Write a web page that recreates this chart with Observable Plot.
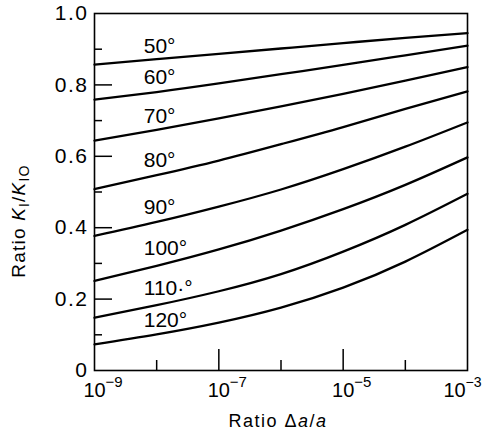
<!DOCTYPE html>
<html><head><meta charset="utf-8">
<script src="https://cdn.jsdelivr.net/npm/d3@7"></script>
<script src="https://cdn.jsdelivr.net/npm/@observablehq/plot@0.6"></script>
<style>body{margin:0;background:#fff}</style>
</head><body><div id="chart"></div>
<script>
// Data
const ratios = [1e-9, 1e-8, 1e-7, 1e-6, 1e-5, 1e-4, 1e-3];
const angles = [50, 60, 70, 80, 90, 100, 110, 120];
const k50  = [0.857, 0.872, 0.887, 0.902, 0.917, 0.932, 0.945];
const k60  = [0.759, 0.780, 0.804, 0.830, 0.856, 0.883, 0.910];
const k70  = [0.644, 0.674, 0.706, 0.740, 0.775, 0.812, 0.850];
const k80  = [0.508, 0.547, 0.588, 0.634, 0.682, 0.733, 0.782];
const k90  = [0.377, 0.416, 0.459, 0.507, 0.564, 0.627, 0.695];
const k100 = [0.251, 0.293, 0.339, 0.392, 0.452, 0.520, 0.597];
const k110 = [0.148, 0.183, 0.222, 0.270, 0.333, 0.408, 0.495];
const k120 = [0.073, 0.101, 0.134, 0.176, 0.232, 0.305, 0.394];
const seriesValues = [k50, k60, k70, k80, k90, k100, k110, k120];

const labelTexts = ["50°", "60°", "70°", "80°", "90°", "100°", "110·°", "120°"];
const labelY = [0.909, 0.820, 0.711, 0.588, 0.457, 0.341, 0.229, 0.142];
const labelX = 6.2e-9;

const yMajor = [0, 0.2, 0.4, 0.6, 0.8, 1.0];
const yMinor = [0.1, 0.3, 0.5, 0.7, 0.9];
const xMajor = [1e-9, 1e-7, 1e-5, 1e-3];
const xMinor = [1e-8, 1e-6, 1e-4];
const xExp = ["−9", "−7", "−5", "−3"];

const table = [];
angles.forEach((a, j) => ratios.forEach((r, i) => table.push({angle: a, x: r, y: seriesValues[j][i]})));

const W = 483, H = 446, mL = 94, mR = 16, mT = 13, mB = 76;
const fw = W - mL - mR, fh = H - mT - mB;
const font = "'Liberation Sans', Arial, sans-serif";

const chart = Plot.plot({
  width: W, height: H,
  marginLeft: mL, marginRight: mR, marginTop: mT, marginBottom: mB,
  style: {fontFamily: font, background: "white", color: "black"},
  x: {type: "log", domain: [1e-9, 1e-3], axis: null},
  y: {domain: [0, 1], axis: null},
  marks: [
    Plot.axisY({ticks: yMajor, tickSize: 0, tickPadding: 6, fontSize: 21,
      tickFormat: d => d === 0 ? "0" : d.toFixed(1), label: null}),
    Plot.tickY(yMajor.slice(1, -1), {y: d => d, insetRight: fw - 18, strokeWidth: 1.5}),
    Plot.tickY(yMinor, {y: d => d, insetRight: fw - 8, strokeWidth: 1.5}),
    Plot.tickX(xMajor.slice(1, -1), {x: d => d, insetTop: fh - 21, strokeWidth: 1.5}),
    Plot.tickX(xMinor, {x: d => d, insetTop: fh - 10, strokeWidth: 1.5}),
    Plot.text(xMajor.slice(0, 3), {x: d => d, text: () => "10", frameAnchor: "bottom", dy: 26, fontSize: 20}),
    Plot.text(xMajor.slice(0, 3), {x: d => d, text: (d, i) => xExp[i], frameAnchor: "bottom",
      textAnchor: "start", dx: 11, dy: 16, fontSize: 15}),
    Plot.text(xMajor.slice(3), {x: d => d, text: () => "10", frameAnchor: "bottom", dx: -13, dy: 26, fontSize: 20}),
    Plot.text(xMajor.slice(3), {x: d => d, text: () => xExp[3], frameAnchor: "bottom",
      textAnchor: "start", dx: -2, dy: 16, fontSize: 14}),
    Plot.line(table, {x: "x", y: "y", z: "angle", curve: "natural", stroke: "black", strokeWidth: 2.3}),
    Plot.text(labelTexts, {x: () => labelX, y: (d, i) => labelY[i], text: d => d,
      textAnchor: "start", fontSize: 21}),
    Plot.frame({stroke: "black", strokeWidth: 1.6})
  ]
});

const svg = d3.select(chart);
svg.selectAll('g[aria-label="y-axis tick label"] text').attr("letter-spacing", 1.5);

// y-axis label with italic K and subscripts
const yl = svg.append("text")
  .attr("transform", "translate(25,221) rotate(-90)")
  .attr("text-anchor", "middle")
  .attr("letter-spacing", 1.2)
  .attr("font-family", font).attr("font-size", 19).attr("fill", "black");
yl.append("tspan").text("Ratio ");
yl.append("tspan").attr("font-style", "italic").text("K");
yl.append("tspan").attr("font-size", 14).attr("dy", 4).text("I");
yl.append("tspan").attr("dy", -4).text("/");
yl.append("tspan").attr("font-style", "italic").text("K");
yl.append("tspan").attr("font-size", 14).attr("dy", 4).text("IO");

// x-axis label
const xl = svg.append("text")
  .attr("x", 278).attr("y", 427)
  .attr("text-anchor", "middle")
  .attr("letter-spacing", 1.5)
  .attr("font-family", font).attr("font-size", 18).attr("fill", "black");
xl.append("tspan").text("Ratio Δ");
xl.append("tspan").attr("font-style", "italic").text("a");
xl.append("tspan").text("/");
xl.append("tspan").attr("font-style", "italic").text("a");

document.getElementById("chart").appendChild(chart);
</script>
</body></html>
